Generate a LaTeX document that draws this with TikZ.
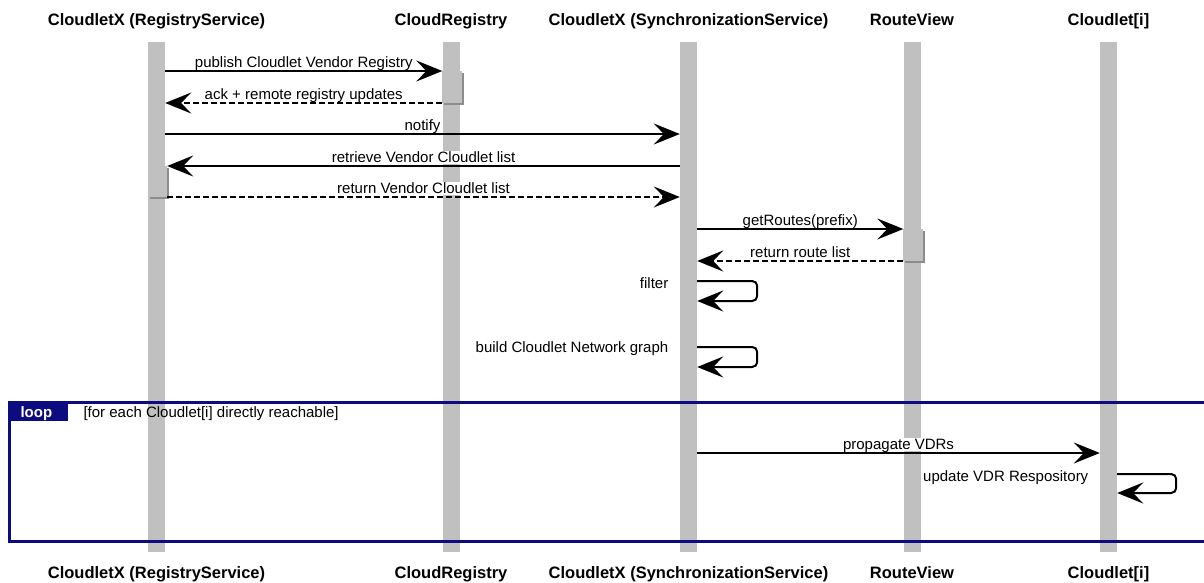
\documentclass[tikz,border=0pt]{standalone}
\usepackage{fontspec}
\setmainfont{Liberation Sans}
\usetikzlibrary{arrows.meta,positioning,calc}
\definecolor{barGray}{RGB}{192,192,192}
\definecolor{shadeGray}{RGB}{140,140,140}
\definecolor{loopNavy}{RGB}{12,12,128}
\tikzset{
    head/.style={font=\fontsize{16.5}{18}\selectfont\bfseries, anchor=base},
    lifebar/.style={fill=barGray, draw=none, minimum width=17pt, inner sep=0pt},
    msg/.style={line width=2pt, -{Stealth[length=26pt,width=21pt,inset=10pt]}},
    reply/.style={msg, dash pattern=on 6pt off 3pt},
    selfmsg/.style={msg, rounded corners=5pt},
    msglabel/.style={font=\fontsize{15}{17}\selectfont, fill=white, inner sep=1pt, text depth=0pt, anchor=south, yshift=1.5pt},
    selflabel/.style={font=\fontsize{15}{17}\selectfont, anchor=base east},
    loopframe/.style={draw=loopNavy, line width=3pt},
}

\begin{document}
\begin{tikzpicture}[x=1pt,y=-1pt]
    \useasboundingbox (0,0) rectangle (1204,583);
    \clip (0,0) rectangle (1204,583);
    % Lifelines
    \foreach \n/\x/\lab in {reg/156.5/{CloudletX (RegistryService)}, creg/451/{CloudRegistry}, sync/688.5/{CloudletX (SynchronizationService)}, rv/912/{RouteView}, cl/1108.5/{Cloudlet[i]}} {
        \node[head] (head\n) at (\x, 26) {\lab};
        \node[head] (foot\n) at (\x, 578) {\lab};
        \node[lifebar, minimum height=510pt] (\n) at (\x, 297) {};
    }
    % Activations
    \foreach \n/\ya/\yb in {creg/71/103, reg/166/197, rv/229/261} {
        \fill[shadeGray] ($(\n.west |- 0,\ya)+(2,2)$) rectangle ($(\n.east |- 0,\yb)+(4,2)$);
        \fill[barGray] (\n.west |- 0,\ya) rectangle ($(\n.east |- 0,\yb)+(2,0)$);
    }
    % Messages
    \draw[msg] (reg.east |- 0,71) -- node[msglabel] {publish Cloudlet Vendor Registry} (creg.west |- 0,71);
    \draw[reply] (creg.west |- 0,103) -- node[msglabel] {ack + remote registry updates} (reg.east |- 0,103);
    \draw[msg] (reg.east |- 0,134) -- node[msglabel] {notify} (sync.west |- 0,134);
    \draw[msg] (sync.west |- 0,166) -- node[msglabel] {retrieve Vendor Cloudlet list} ($(reg.east |- 0,166)+(2,0)$);
    \draw[reply] ($(reg.east |- 0,197)+(2,0)$) -- node[msglabel] {return Vendor Cloudlet list} (sync.west |- 0,197);
    \draw[msg] (sync.east |- 0,229) -- node[msglabel] {getRoutes(prefix)} (rv.west |- 0,229);
    \draw[reply] (rv.west |- 0,261) -- node[msglabel] {return route list} (sync.east |- 0,261);
    % Self calls
    \draw[selfmsg] (sync.east |- 0,281) -- ++(60,0) -- ++(0,20) -- (sync.east |- 0,301);
    \node[selflabel] (filterlbl) at ($(sync.west |- 0,288)+(-8,0)$) {filter};
    \draw[selfmsg] (sync.east |- 0,347) -- ++(60,0) -- ++(0,20) -- (sync.east |- 0,367);
    \node[selflabel] (buildlbl) at ($(sync.west |- 0,352)+(-8,0)$) {build Cloudlet Network graph};
    % Loop
    \draw[loopframe] (9,402) rectangle (1220,541);
    \fill[loopNavy] (9,402) rectangle (68,421);
    \node[font=\fontsize{15}{17}\selectfont\bfseries, text=white, anchor=base west] (looptag) at (17,417) {loop};
    \node[font=\fontsize{15}{17}\selectfont, anchor=base west] (loopcond) at (80,417) {[for each Cloudlet[i] directly reachable]};
    \draw[msg] (sync.east |- 0,453) -- node[msglabel] {propagate VDRs} (cl.west |- 0,453);
    \draw[selfmsg] (cl.east |- 0,474) -- ++(59,0) -- ++(0,19) -- (cl.east |- 0,493);
    \node[selflabel] (updatelbl) at ($(cl.west |- 0,481)+(-8,0)$) {update VDR Respository};
\end{tikzpicture}
\end{document}
